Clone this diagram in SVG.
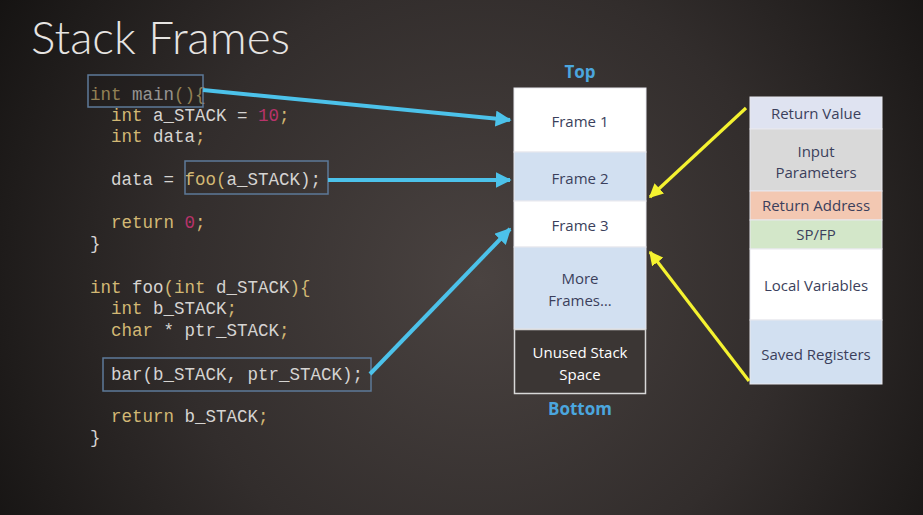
<svg xmlns="http://www.w3.org/2000/svg" width="923" height="515" viewBox="0 0 923 515">
<defs>
<radialGradient id="bg" cx="480" cy="280" r="560" gradientUnits="userSpaceOnUse">
<stop offset="0" stop-color="#4a4341"/>
<stop offset="0.55" stop-color="#322d2c"/>
<stop offset="1" stop-color="#151312"/>
</radialGradient>
<marker id="ab" markerWidth="4" markerHeight="4" refX="3.6" refY="2" orient="auto" markerUnits="strokeWidth" viewBox="0 0 4 4">
<path d="M0,0 L4,2 L0,4 z" fill="#4cc2ea"/>
</marker>
<marker id="ay" markerWidth="4.4" markerHeight="4.4" refX="3.6" refY="2" orient="auto" markerUnits="strokeWidth" viewBox="0 0 4 4">
<path d="M0,0 L4,2 L0,4 z" fill="#f4f230"/>
</marker>
</defs>
<style>
.code{font-family:"Courier New","Nimbus Mono PS","Nimbus Mono L","FreeMono","Liberation Mono",monospace;font-size:17.5px;fill:#d6d4d2}
.k{fill:#d2b874}
.n{fill:#b8336a}
.hl{fill:none;stroke:#5d7a99;stroke-width:1.5}
.lbl{font-family:"Open Sans","Noto Sans",sans-serif;font-size:15px;fill:#3b3f5c;text-anchor:middle}
.cell{stroke:#e8e8ee;stroke-width:1}
.end{font-family:"Open Sans","Noto Sans",sans-serif;font-size:17px;font-weight:bold;fill:#4ba6de;text-anchor:middle}
.blue{stroke:#4cc2ea;stroke-width:4;fill:none}
.yel{stroke:#f4f230;stroke-width:3.2;fill:none}
</style>
<rect width="923" height="515" fill="url(#bg)"/>
<text x="31" y="54" font-family="Lato,'Open Sans',sans-serif" font-weight="300" font-size="46" fill="#e6e4e2" textLength="259" lengthAdjust="spacingAndGlyphs">Stack Frames</text>

<g id="code">
<text class="code" x="90" y="100"><tspan class="k">int</tspan> main<tspan class="k">()</tspan><tspan class="k">{</tspan></text>
<text class="code" x="111" y="121"><tspan class="k">int</tspan> a_STACK = <tspan class="n">10</tspan><tspan class="k">;</tspan></text>
<text class="code" x="111" y="142"><tspan class="k">int</tspan> data<tspan class="k">;</tspan></text>
<text class="code" x="111" y="185">data = <tspan class="k">foo(</tspan>a_STACK);</text>
<text class="code" x="111" y="228"><tspan class="k">return</tspan> <tspan class="n">0</tspan><tspan class="k">;</tspan></text>
<text class="code" x="90" y="249">}</text>
<text class="code" x="90" y="293"><tspan class="k">int</tspan> foo<tspan class="k">(int</tspan> d_STACK<tspan class="k">){</tspan></text>
<text class="code" x="111" y="314"><tspan class="k">int</tspan> b_STACK<tspan class="k">;</tspan></text>
<text class="code" x="111" y="336"><tspan class="k">char</tspan> * ptr_STACK<tspan class="k">;</tspan></text>
<text class="code" x="111" y="380">bar(b_STACK, ptr_STACK);</text>
<text class="code" x="111" y="422"><tspan class="k">return</tspan> b_STACK<tspan class="k">;</tspan></text>
<text class="code" x="90" y="443">}</text>
</g>

<g id="highlights">
<rect id="hl-main" class="hl" x="88" y="75" width="115" height="32" style="fill:#1c1a1a;fill-opacity:0.35"/>
<rect id="hl-foo" class="hl" x="185" y="161" width="143" height="33"/>
<rect id="hl-bar" class="hl" x="103" y="358" width="268" height="33"/>
</g>

<g id="stack">
<text class="end" x="580" y="78">Top</text>
<g id="frame1"><rect class="cell" x="514" y="88" width="132" height="64" fill="#ffffff"/><text class="lbl" x="580" y="127">Frame 1</text></g>
<g id="frame2"><rect class="cell" x="514" y="152" width="132" height="49" fill="#d2e0f1"/><text class="lbl" x="580" y="184">Frame 2</text></g>
<g id="frame3"><rect class="cell" x="514" y="201" width="132" height="46" fill="#ffffff"/><text class="lbl" x="580" y="231">Frame 3</text></g>
<g id="more"><rect class="cell" x="514" y="247" width="132" height="82" fill="#d2e0f1"/><text class="lbl" x="580" y="284">More</text><text class="lbl" x="580" y="306">Frames…</text></g>
<g id="unused"><rect x="514.5" y="329.5" width="131" height="64" fill="#3b3634" stroke="#d8d8d8" stroke-width="1.5"/><text class="lbl" x="580" y="358" style="fill:#ffffff">Unused Stack</text><text class="lbl" x="580" y="380" style="fill:#ffffff">Space</text></g>
<text class="end" x="580" y="415">Bottom</text>
</g>

<g id="frame-detail">
<g id="retval"><rect class="cell" x="750" y="97" width="132" height="32" fill="#dfe3f1"/><text class="lbl" x="816" y="119">Return Value</text></g>
<g id="params"><rect class="cell" x="750" y="129" width="132" height="62" fill="#d9d9d9"/><text class="lbl" x="816" y="157">Input</text><text class="lbl" x="816" y="178">Parameters</text></g>
<g id="retaddr"><rect class="cell" x="750" y="191" width="132" height="29" fill="#f3c8b2"/><text class="lbl" x="816" y="211">Return Address</text></g>
<g id="spfp"><rect class="cell" x="750" y="220" width="132" height="29" fill="#d3e7c9"/><text class="lbl" x="816" y="240">SP/FP</text></g>
<g id="locals"><rect class="cell" x="750" y="249" width="132" height="71" fill="#ffffff"/><text class="lbl" x="816" y="291">Local Variables</text></g>
<g id="saved"><rect class="cell" x="750" y="320" width="132" height="64" fill="#d2e0f1"/><text class="lbl" x="816" y="360">Saved Registers</text></g>
</g>

<g id="connectors">
<line class="blue" x1="203" y1="90" x2="510" y2="120" marker-end="url(#ab)"/>
<line class="blue" x1="328" y1="180" x2="510" y2="180" marker-end="url(#ab)"/>
<line class="blue" x1="370" y1="374" x2="510" y2="229" marker-end="url(#ab)"/>
<line class="yel" x1="746" y1="108" x2="650" y2="197" marker-end="url(#ay)"/>
<line class="yel" x1="749" y1="381" x2="650" y2="252" marker-end="url(#ay)"/>
</g>
</svg>
